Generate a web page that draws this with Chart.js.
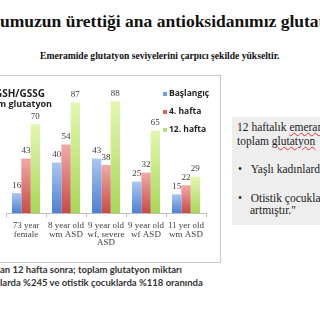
<!DOCTYPE html>
<html>
<head>
<meta charset="utf-8">
<script src="https://cdn.jsdelivr.net/npm/chart.js@4/dist/chart.umd.min.js"></script>
<style>
    html, body { margin: 0; padding: 0; width: 320px; height: 320px; overflow: hidden; background: #fff; position: relative; }
    .abs { position: absolute; white-space: nowrap; }
    .title { left: 0; top: 11px; font: bold 17.5px "Liberation Serif", serif; color: #111; }
    .subtitle { left: 40px; top: 50px; font: bold 9.6px "Liberation Serif", serif; color: #111; }
    .box { left: -20px; top: 75px; width: 239px; height: 186px; border: 1px solid #c8c8c8; }
    #chart-wrap { position: absolute; left: 0; top: 76px; width: 219px; height: 186px; }
    .ctitle { font: bold 10px "Open Sans", sans-serif; color: #222; }
    .legend { font: bold 8.5px "Open Sans", sans-serif; color: #222; }
    .legend i { display: inline-block; width: 4px; height: 4px; margin-right: 2px; vertical-align: middle; }
    .note { left: 232px; top: 117px; width: 90px; height: 108px; background: #eeeeee; font: 11.5px "Liberation Serif", serif; color: #222; }
    .note div { position: absolute; white-space: nowrap; }
    .squig { text-decoration: underline wavy #e03030; text-decoration-thickness: 1px; }
    .bottom { left: 0; font: bold 9.5px Lato, sans-serif; color: #333; }
</style>
</head>
<body>
<div class="abs title">umuzun ürettiği ana antioksidanımız glutatyon</div>
<div class="abs subtitle">Emeramide glutatyon seviyelerini çarpıcı şekilde yükseltir.</div>

<div class="abs box"></div>
<div id="chart-wrap"><canvas id="chart" width="219" height="186"></canvas></div>
<div class="abs ctitle" style="right:275px; top:86px;">GSH/GSSG</div>
<div class="abs ctitle" style="right:268px; top:97px; font-size:9px;">Toplam glutatyon</div>

<div class="abs legend" style="left:163px; top:87px;"><i style="background:#6f9be0"></i>Başlangıç</div>
<div class="abs legend" style="left:163px; top:105px;"><i style="background:#d9605c"></i>4. hafta</div>
<div class="abs legend" style="left:163px; top:123px;"><i style="background:#b8df72"></i>12. hafta</div>

<div class="abs note">
    <div style="left:5px; top:4px;">12 haftalık <span class="squig">emeramide</span></div>
    <div style="left:5px; top:18px;">toplam <span class="squig">glutatyon</span></div>
    <div style="left:6px; top:46px;">•&nbsp;&nbsp;&nbsp;Yaşlı kadınlarda</div>
    <div style="left:6px; top:75px;">•&nbsp;&nbsp;&nbsp;Otistik çocuklarda</div>
    <div style="left:18px; top:87px;">artmıştır."</div>
</div>

<div class="abs bottom" style="top:264px;">an 12 hafta sonra; toplam glutatyon miktarı</div>
<div class="abs bottom" style="top:277px;">larda %245 ve otistik çocuklarda %118 oranında</div>

<script>
// veriler
const categories = [
    ['73 year', 'female'],
    ['8 year old', 'wm ASD'],
    ['9 year old', 'wf, severe', 'ASD'],
    ['9 year old', 'wf ASD'],
    ['11 yer old', 'wm ASD']
];
const seriesNames = ['Başlangıç', '4. hafta', '12. hafta'];
const baslangic = [16, 40, 43, 25, 15];
const hafta4 = [43, 54, 38, 32, 22];
const hafta12 = [70, 87, 88, 65, 29];

// gradyan renkleri (üst, alt)
const colors = [
    ['#a9c8f2', '#4b80d3'],
    ['#f2aaa8', '#c84a46'],
    ['#e3f7b0', '#a6d855']
];

function barGradient(pair) {
    return function(ctx) {
        const chart = ctx.chart;
        if (!chart.chartArea || ctx.raw === undefined) return pair[1];
        const yScale = chart.scales.y;
        const top = yScale.getPixelForValue(ctx.raw);
        const bottom = yScale.getPixelForValue(0);
        const g = chart.ctx.createLinearGradient(0, top, 0, bottom);
        g.addColorStop(0, pair[0]);
        g.addColorStop(1, pair[1]);
        return g;
    };
}

const valueLabels = {
    id: 'valueLabels',
    afterDatasetsDraw(chart) {
        const c = chart.ctx;
        c.save();
        c.font = '9px "Liberation Serif", serif';
        c.fillStyle = '#404040';
        c.textAlign = 'center';
        c.textBaseline = 'bottom';
        chart.data.datasets.forEach((ds, i) => {
            chart.getDatasetMeta(i).data.forEach((bar, j) => {
                c.fillText(ds.data[j], bar.x, bar.y - 3);
            });
        });
        c.restore();
    }
};

const allSeries = [baslangic, hafta4, hafta12];

new Chart(document.getElementById('chart'), {
    type: 'bar',
    data: {
        labels: categories,
        datasets: allSeries.map((data, i) => ({
            label: seriesNames[i],
            data: data,
            backgroundColor: barGradient(colors[i]),
            borderWidth: 0,
            barPercentage: 1,
            categoryPercentage: 0.7
        }))
    },
    options: {
        responsive: false,
        animation: false,
        layout: { padding: { left: 6, right: 13, top: 10, bottom: 11 } },
        plugins: { legend: { display: false }, tooltip: { enabled: false } },
        scales: {
            x: {
                grid: { display: true, drawOnChartArea: false, tickLength: 4, color: '#bfbfbf', offset: true },
                border: { color: '#bfbfbf' },
                ticks: {
                    color: '#404040',
                    maxRotation: 0,
                    autoSkip: false,
                    padding: 4,
                    font: { family: '"Liberation Serif", serif', size: 9, lineHeight: 0.95 }
                }
            },
            y: {
                display: false,
                min: 0,
                max: 100
            }
        }
    },
    plugins: [valueLabels]
});
</script>
</body>
</html>
